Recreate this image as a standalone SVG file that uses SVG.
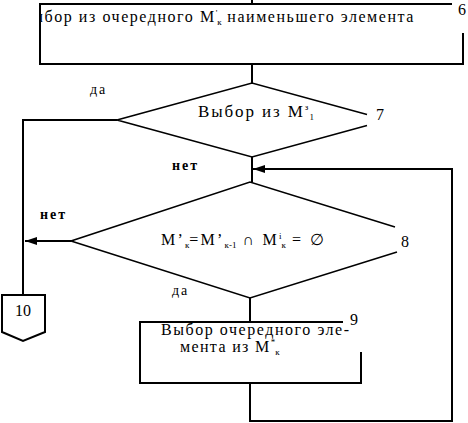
<svg xmlns="http://www.w3.org/2000/svg" width="468" height="423" viewBox="0 0 468 423">
<style>
.ln{fill:none;stroke:#000;stroke-width:2}
.dm{fill:none;stroke:#000;stroke-width:1.6}
text{font-family:'Liberation Serif','DejaVu Serif','Times New Roman',serif;fill:#000}
.t{font-size:16px;letter-spacing:1.35px}
.s{font-size:9px;letter-spacing:0}
.lb{font-size:14px;font-weight:bold;letter-spacing:2px}
.ld{font-size:14px;letter-spacing:2px}
.n{font-size:16px}
</style>
<defs>
<marker id="ah" markerWidth="12" markerHeight="8" refX="12" refY="4" orient="auto" markerUnits="userSpaceOnUse">
<path d="M0,0 L12,4 L0,8 Z" fill="#000"/>
</marker>
<clipPath id="c6"><rect x="41" y="4" width="422" height="60"/></clipPath>
</defs>
<g id="connectors">
<line class="ln" x1="252" y1="0" x2="252" y2="4"/>
<line class="ln" x1="252" y1="64" x2="252" y2="83"/>
<polyline class="ln" points="117,120 23,120 23,295"/>
<line class="ln" x1="252" y1="157" x2="252" y2="182"/>
<polyline class="ln" points="250,383 250,421 452,421 452,169 253,169" marker-end="url(#ah)"/>
<line class="ln" x1="71" y1="241" x2="25" y2="241" marker-end="url(#ah)"/>
<line class="ln" x1="250" y1="298" x2="250" y2="322"/>
<text class="ld" x="90" y="94">да</text>
<text class="lb" x="172" y="170">нет</text>
<text class="lb" x="40" y="219">нет</text>
<text class="ld" x="172" y="295">да</text>
</g>
<g id="node6">
<polyline class="ln" points="452,4 40,4 40,64 463,64 463,33"/>
<text class="t" x="20" y="22" style="letter-spacing:1.55px" clip-path="url(#c6)">Выбор из очередного M<tspan class="s" dy="-6">'</tspan><tspan class="s" dy="9">к</tspan><tspan dy="-3"> наименьшего элемента</tspan></text>
<text class="n" x="458" y="15">6</text>
</g>
<g id="node7">
<polyline class="dm" points="367,114.5 252,83 117,120 252,157 367,125.5"/>
<text class="t" x="198" y="117" style="font-size:17px;letter-spacing:1.9px">Выбор из M<tspan class="s" dy="-7">з</tspan><tspan class="s" dx="1" dy="10">1</tspan></text>
<text class="n" x="376" y="120">7</text>
</g>
<g id="node8">
<polyline class="dm" points="395,227 250,182 71,241 250,298 397,252"/>
<text class="t" x="161" y="245" style="letter-spacing:2.2px">M’<tspan class="s" dy="3">к</tspan><tspan dy="-3">=M’</tspan><tspan class="s" dy="3">к-1</tspan><tspan dy="-3"> ∩ M</tspan><tspan class="s" dy="-6">i</tspan><tspan class="s" dy="9">к</tspan><tspan dy="-3"> = ∅</tspan></text>
<text class="n" x="401" y="247">8</text>
</g>
<g id="node9">
<polyline class="ln" points="343,322 140,322 140,383 361,383 361,352"/>
<text class="t" x="161" y="335" style="letter-spacing:1.55px">Выбор очередного эле-</text>
<text class="t" x="180" y="352">мента из M<tspan class="s" dy="-7">*</tspan><tspan class="s" dy="10">к</tspan></text>
<text class="n" x="350" y="325">9</text>
</g>
<g id="node10">
<polygon class="ln" points="2,295 45,295 45,332 23,341 2,332"/>
<text class="n" x="23" y="316" text-anchor="middle">10</text>
</g>
</svg>
